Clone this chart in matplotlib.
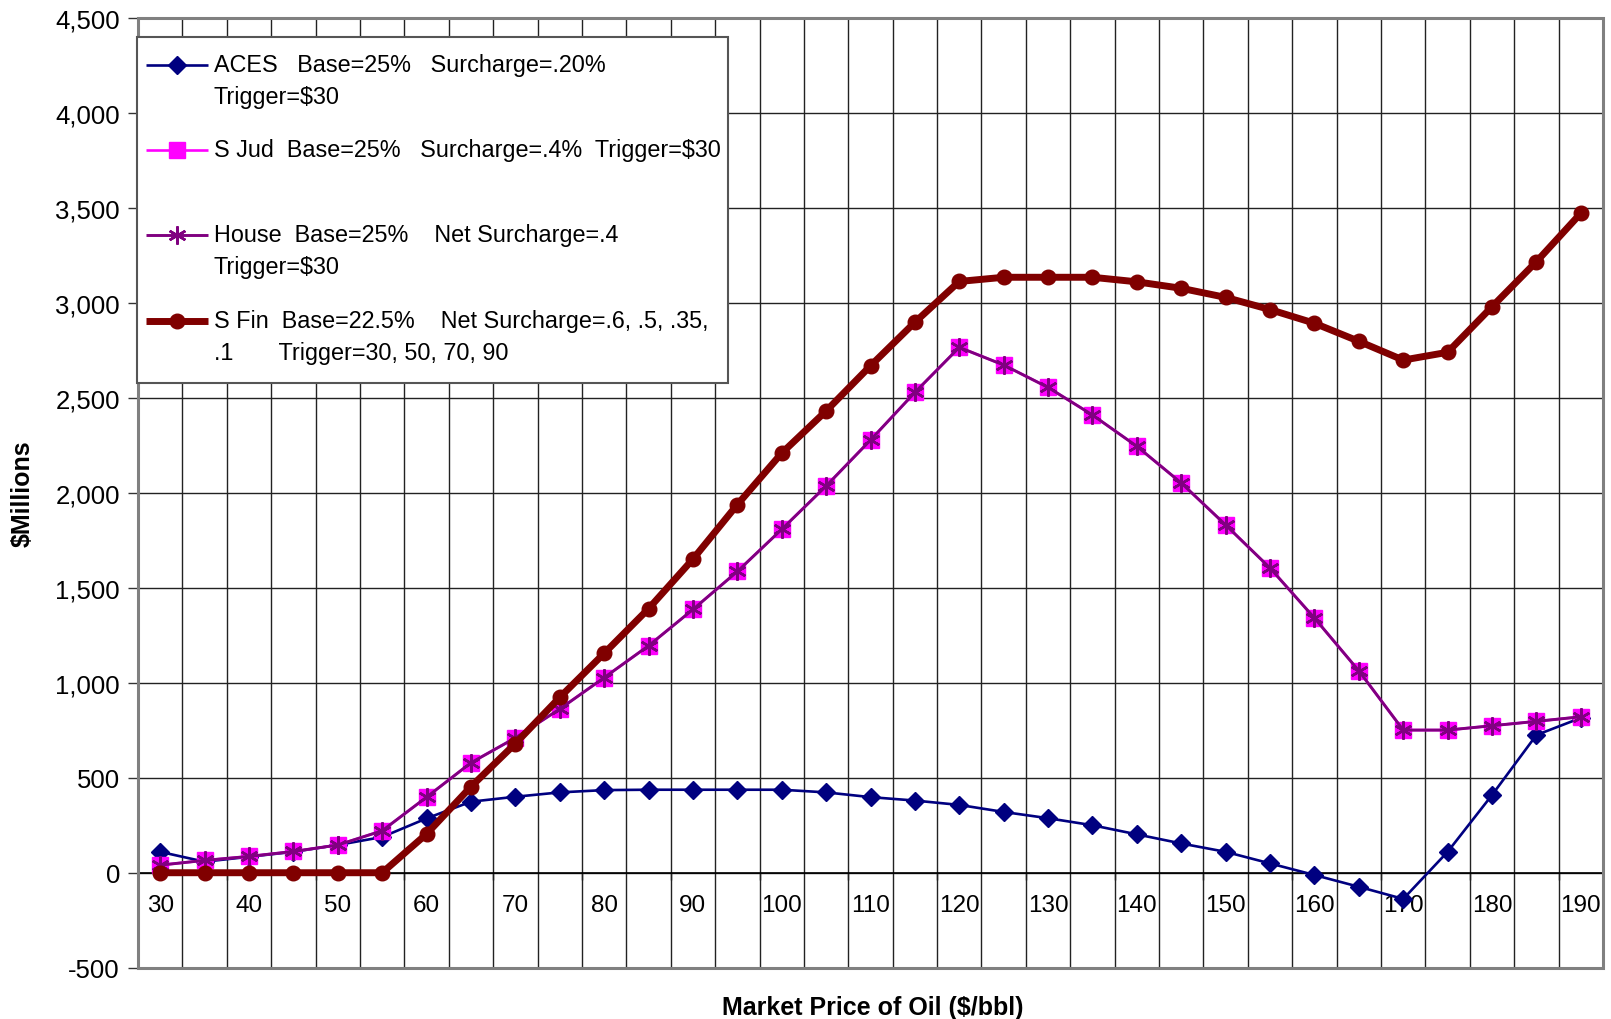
import matplotlib
matplotlib.use("Agg")
import matplotlib.pyplot as plt
from matplotlib.lines import Line2D
from matplotlib.patches import Rectangle
from matplotlib.ticker import FuncFormatter, FixedLocator
import numpy as np

plt.rcParams['font.family'] = ['Liberation Sans', 'DejaVu Sans']
plt.rcParams['text.parse_math'] = False

# ---------------- data ----------------
prices = [30, 35, 40, 45, 50, 55, 60, 65, 70, 75, 80, 85, 90, 95, 100, 105, 110,
          115, 120, 125, 130, 135, 140, 145, 150, 155, 160, 165, 170, 175, 180, 185, 190]

aces = [110, 58, 84, 110, 146, 188, 286, 374, 400, 423, 435, 437, 437, 437, 437, 423, 398,
        380, 357, 320, 287, 250, 202, 154, 110, 49, -12, -74, -138, 110, 409, 725, 815]

sjud = [40, 65, 86, 112, 146, 221, 398, 579, 710, 862, 1027, 1195, 1386, 1586, 1808, 2036, 2278,
        2529, 2766, 2673, 2555, 2410, 2245, 2052, 1831, 1604, 1341, 1063, 751, 751, 774, 797, 821]

house = [40, 65, 86, 112, 146, 221, 398, 579, 710, 862, 1027, 1195, 1386, 1586, 1808, 2036, 2278,
         2529, 2766, 2673, 2555, 2410, 2245, 2052, 1831, 1604, 1341, 1063, 751, 751, 774, 797, 821]

sfin = [0, 0, 0, 0, 0, 0, 204, 453, 680, 923, 1155, 1390, 1651, 1938, 2209, 2431, 2669,
        2898, 3113, 3135, 3135, 3135, 3111, 3077, 3029, 2965, 2893, 2798, 2699, 2740, 2980, 3217, 3472]

xtick_labels = [30, 40, 50, 60, 70, 80, 90, 100, 110, 120, 130, 140, 150, 160, 170, 180, 190]
yticks = [-500, 0, 500, 1000, 1500, 2000, 2500, 3000, 3500, 4000, 4500]

legend_lines = [
    ("ACES   Base=25%   Surcharge=.20%", "Trigger=$30"),
    ("S Jud  Base=25%   Surcharge=.4%  Trigger=$30", ""),
    ("House  Base=25%    Net Surcharge=.4", "Trigger=$30"),
    ("S Fin  Base=22.5%    Net Surcharge=.6, .5, .35,", ".1       Trigger=30, 50, 70, 90"),
]

# ---------------- styles ----------------
C_ACES = '#000080'
C_SJUD = '#FF00FF'
C_HOUSE = '#800080'
C_SFIN = '#800000'
W, H = 1611, 1020

fig = plt.figure(figsize=(W / 100, H / 100), dpi=100)
ax = fig.add_axes([138 / W, (H - 968.7) / H, 1465 / W, 949.7 / H])

x = np.array(prices, dtype=float)
step = x[1] - x[0]
ax.set_xlim(x[0] - step / 2, x[-1] + step / 2)
ax.set_ylim(yticks[0], yticks[-1])

# grid
for b in (x[:-1] + x[1:]) / 2:
    ax.axvline(b, color='#222222', lw=1.0, zorder=1)
ax.set_yticks(yticks)
ax.yaxis.grid(True, color='#222222', lw=1.0, zorder=1)
ax.set_axisbelow(True)

st_aces = dict(color=C_ACES, lw=1.9, marker='D', ms=9, mfc=C_ACES, mec=C_ACES)
st_sjud = dict(color=C_SJUD, lw=1.9, marker='s', ms=11.5, mfc=C_SJUD, mec=C_SJUD)
st_house = dict(color=C_HOUSE, lw=2.1, marker=(6, 2, 0), ms=13, mec=C_HOUSE, mew=1.8)
st_sfin = dict(color=C_SFIN, lw=5.0, marker='o', ms=10.5, mfc=C_SFIN, mec=C_SFIN)

# series
ax.plot(x, aces, zorder=3, **st_aces)
ax.plot(x, sjud, zorder=4, **st_sjud)
ax.plot(x, house, zorder=5, **st_house)
ax.plot(x, sfin, zorder=6, solid_capstyle='round', **st_sfin)

# axes styling
for s in ['top', 'right', 'left']:
    ax.spines[s].set_color('#808080')
    ax.spines[s].set_linewidth(1.8)
ax.spines['bottom'].set_position(('data', 0))
ax.spines['bottom'].set_color('black')
ax.spines['bottom'].set_linewidth(1.2)
ax.spines['bottom'].set_zorder(2)
ax.add_patch(Rectangle((0, 0), 1, 1, transform=ax.transAxes, fill=False,
                       edgecolor='#808080', lw=2.2, zorder=7, clip_on=False))

ax.yaxis.set_major_formatter(FuncFormatter(lambda v, p: f"{int(v):,}"))
ax.tick_params(axis='y', which='major', direction='out', length=7, width=1.0,
               color='#333333', labelsize=18.5, pad=6)

ax.xaxis.set_major_locator(FixedLocator([p - step / 2 for p in xtick_labels]))
ax.xaxis.set_major_formatter(FuncFormatter(lambda v, p: ""))
ax.xaxis.set_minor_locator(FixedLocator(xtick_labels))
ax.xaxis.set_minor_formatter(FuncFormatter(lambda v, p: f"{int(round(v))}"))
ax.tick_params(axis='x', which='major', direction='out', length=5, width=1.0, color='black')
ax.tick_params(axis='x', which='minor', length=0, labelsize=17.5, pad=15)

# axis titles
fig.text(873 / W, 1 - 1015 / H, "Market Price of Oil ($/bbl)", ha='center', va='baseline',
         fontsize=18, fontweight='bold')
fig.text(23 / W, 1 - 494 / H, "$Millions", ha='center', va='center', rotation=90,
         fontsize=18, fontweight='bold')

# legend (drawn manually to match the two-line layout)
def fx(px):
    return px / W

def fy(py):
    return 1 - py / H

fig.add_artist(Rectangle((fx(137), fy(384)), fx(728) - fx(137), fy(38) - fy(384),
                         transform=fig.transFigure, facecolor='white', edgecolor='#555555',
                         lw=1.5, zorder=8))
handle_y = [65.8, 151.0, 235.5, 321.6]
for (l1, l2), st, hy in zip(legend_lines, [st_aces, st_sjud, st_house, st_sfin], handle_y):
    st = dict(st)
    mk = {k: st.pop(k) for k in ['marker', 'ms', 'mfc', 'mec', 'mew'] if k in st}
    fig.add_artist(Line2D([fx(146), fx(208)], [fy(hy), fy(hy)], transform=fig.transFigure,
                          zorder=9, solid_capstyle='butt', **st))
    fig.add_artist(Line2D([fx(177)], [fy(hy)], transform=fig.transFigure, zorder=10,
                          linestyle='none', **mk))
    fig.text(fx(214), fy(hy + 6.3), l1, ha='left', va='baseline', fontsize=16.8, zorder=10)
    if l2:
        fig.text(fx(214), fy(hy + 38.3), l2, ha='left', va='baseline', fontsize=16.8, zorder=10)

fig.savefig("out.png", dpi=100)
